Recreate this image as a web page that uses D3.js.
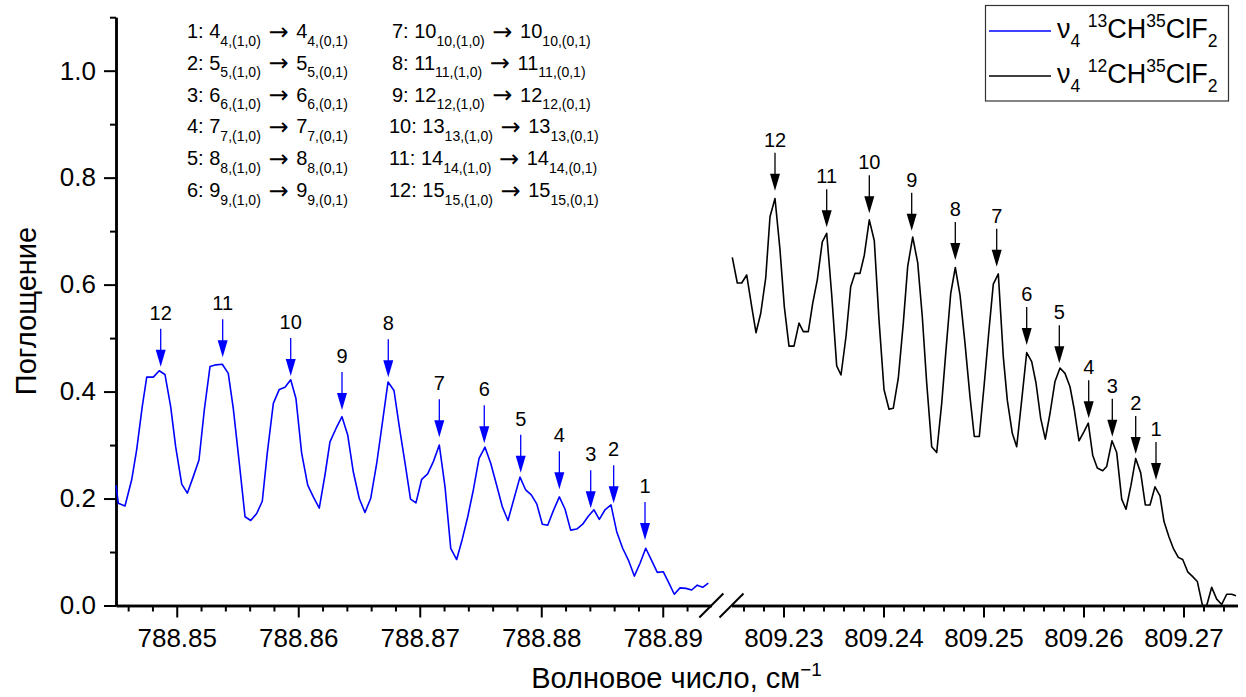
<!DOCTYPE html>
<html><head><meta charset="utf-8">
<script src="https://cdn.jsdelivr.net/npm/d3@7/dist/d3.min.js"></script>
<style>
body{margin:0;background:#fff}
svg{display:block}
text{font-family:"Liberation Sans",Arial,sans-serif;fill:#000}
</style>
</head><body>
<svg id="chart" width="1246" height="697"></svg>
<script>
// ---------- DATA ----------
const blueWavenumber = [
788.84500,788.84519,788.84574,788.84629,788.84670,788.84716,788.84753,788.84807,788.84856,788.84903,
788.84950,788.84991,788.85041,788.85087,788.85136,788.85183,788.85227,788.85274,788.85323,788.85375,
788.85424,788.85465,788.85515,788.85562,788.85609,788.85658,788.85704,788.85745,788.85795,788.85844,
788.85891,788.85938,788.85981,788.86028,788.86078,788.86124,788.86173,788.86220,788.86261,788.86311,
788.86360,788.86407,788.86453,788.86502,788.86549,788.86596,788.86646,788.86692,788.86739,788.86788,
788.86832,788.86879,788.86924,788.86969,788.87016,788.87065,788.87112,788.87161,788.87208,788.87255,
788.87304,788.87350,788.87395,788.87441,788.87488,788.87537,788.87584,788.87633,788.87679,788.87726,
788.87776,788.87825,788.87872,788.87918,788.87963,788.88009,788.88053,788.88099,788.88149,788.88196,
788.88242,788.88292,788.88341,788.88387,788.88434,788.88478,788.88525,788.88574,788.88621,788.88670,
788.88717,788.88766,788.88813,788.88860,788.88909,788.88955,788.89005,788.89051,788.89095,788.89142,
788.89191,788.89238,788.89284,788.89329,788.89375];
const blueAbsorbance = [
0.225,0.191,0.186,0.235,0.291,0.372,0.427,0.427,0.439,0.432,
0.372,0.297,0.227,0.210,0.241,0.272,0.366,0.447,0.450,0.451,
0.434,0.369,0.266,0.166,0.159,0.172,0.195,0.285,0.378,0.404,
0.408,0.422,0.387,0.285,0.225,0.203,0.182,0.244,0.306,0.331,
0.353,0.319,0.250,0.200,0.174,0.200,0.266,0.341,0.418,0.402,
0.334,0.266,0.199,0.192,0.236,0.246,0.269,0.300,0.222,0.107,
0.086,0.124,0.166,0.216,0.275,0.296,0.266,0.225,0.185,0.159,
0.200,0.240,0.216,0.207,0.190,0.152,0.150,0.177,0.203,0.180,
0.141,0.143,0.152,0.167,0.179,0.161,0.179,0.188,0.138,0.107,
0.085,0.055,0.079,0.107,0.084,0.062,0.063,0.042,0.021,0.033,
0.032,0.029,0.038,0.034,0.042];

const blackWavenumber = [
809.22488,809.22538,809.22582,809.22632,809.22682,809.22725,809.22772,809.22822,809.22865,809.22915,
809.22965,809.23008,809.23055,809.23105,809.23155,809.23198,809.23248,809.23292,809.23338,809.23388,
809.23432,809.23482,809.23532,809.23575,809.23625,809.23672,809.23715,809.23765,809.23808,809.23858,
809.23908,809.23955,809.24005,809.24055,809.24098,809.24148,809.24198,809.24242,809.24292,809.24342,
809.24388,809.24432,809.24482,809.24532,809.24582,809.24625,809.24672,809.24718,809.24765,809.24815,
809.24865,809.24908,809.24958,809.25005,809.25052,809.25098,809.25148,809.25198,809.25238,809.25288,
809.25332,809.25382,809.25432,809.25482,809.25525,809.25572,809.25618,809.25665,809.25715,809.25765,
809.25815,809.25865,809.25908,809.25955,809.26005,809.26048,809.26092,809.26138,809.26192,809.26232,
809.26285,809.26332,809.26382,809.26425,809.26475,809.26522,809.26572,809.26618,809.26665,809.26715,
809.26765,809.26805,809.26855,809.26898,809.26948,809.26992,809.27042,809.27092,809.27138,809.27190,
809.27232,809.27282,809.27332,809.27382,809.27432,809.27482,809.27525];
const blackAbsorbance = [
0.651,0.603,0.603,0.618,0.559,0.510,0.546,0.612,0.727,0.761,
0.665,0.559,0.485,0.485,0.528,0.512,0.512,0.565,0.609,0.680,
0.696,0.581,0.448,0.431,0.503,0.596,0.621,0.621,0.655,0.721,
0.682,0.534,0.404,0.367,0.369,0.425,0.528,0.634,0.689,0.641,
0.540,0.416,0.297,0.286,0.378,0.478,0.583,0.632,0.581,0.490,
0.390,0.316,0.316,0.409,0.509,0.601,0.620,0.465,0.384,0.322,
0.297,0.384,0.473,0.456,0.416,0.350,0.311,0.359,0.419,0.444,
0.434,0.409,0.366,0.308,0.325,0.341,0.281,0.257,0.252,0.260,
0.308,0.286,0.199,0.180,0.225,0.275,0.248,0.188,0.188,0.222,
0.205,0.157,0.128,0.107,0.090,0.086,0.063,0.054,0.045,0.000,
0.000,0.034,0.012,0.002,0.021,0.021,0.018];

// arrow marks (label, wavenumber of tip, absorbance of tip)
const blueArrowLabels = ["12","11","10","9","8","7","6","5","4","3","2","1"];
const blueArrowWavenumber = [788.84868,788.85378,788.85938,788.86360,788.86741,788.87161,788.87531,788.87831,788.88149,788.88407,788.88596,788.88854];
const blueArrowAbsorbance = [0.4465,0.4641,0.4291,0.3656,0.4267,0.3145,0.3033,0.2483,0.2173,0.1818,0.1911,0.1225];
const blackArrowLabels = ["12","11","10","9","8","7","6","5","4","3","2","1"];
const blackArrowWavenumber = [809.22915,809.23432,809.23858,809.24282,809.24718,809.25132,809.25432,809.25758,809.26052,809.26288,809.26522,809.26725];
const blackArrowAbsorbance = [0.7756,0.7072,0.7334,0.7008,0.6460,0.6335,0.4871,0.4529,0.3500,0.3156,0.2833,0.2347];

// transitions list
const transitionIds = [1,2,3,4,5,6,7,8,9,10,11,12];
const transitionJ = [4,5,6,7,8,9,10,11,12,13,14,15];

// ticks
const xTicksLeft = [788.85,788.86,788.87,788.88,788.89];
const xMinorLeft = [788.846,788.848,788.852,788.854,788.856,788.858,788.862,788.864,788.866,788.868,788.872,788.874,788.876,788.878,788.882,788.884,788.886,788.888,788.892];
const xTicksRight = [809.23,809.24,809.25,809.26,809.27];
const xMinorRight = [809.226,809.228,809.232,809.234,809.236,809.238,809.242,809.244,809.246,809.248,809.252,809.254,809.256,809.258,809.262,809.264,809.266,809.268,809.272,809.274];
const yTicks = [0,0.2,0.4,0.6,0.8,1.0];
const yMinor = [0.1,0.3,0.5,0.7,0.9,1.1];

const seriesNames = ["13","12"];
const yTitle = "Поглощение";
const xTitle = "Волновое число, см";

// ---------- DRAW ----------
const svg = d3.select("#chart");
const xLeft = d3.scaleLinear().domain([788.845, 788.894]).range([116, 711.35]);
const xRight = d3.scaleLinear().domain([809.2248, 809.2754]).range([731.5, 1237.5]);
const y = d3.scaleLinear().domain([0, 1.1]).range([605.5, 17.2]);

function styleAxis(g, fs) {
  g.select(".domain").attr("stroke", "#000").attr("stroke-width", 2.5);
  g.selectAll(".tick line").attr("stroke", "#000").attr("stroke-width", 2);
  g.selectAll(".tick text").attr("font-size", fs).attr("font-family", '"Liberation Sans",Arial,sans-serif').attr("fill", "#000");
}

// x axes
[[xLeft, xTicksLeft, xMinorLeft], [xRight, xTicksRight, xMinorRight]].forEach(([sc, maj, mn]) => {
  const gm = svg.append("g").attr("transform", "translate(0,605.5)")
    .call(d3.axisBottom(sc).tickValues(mn).tickSize(6).tickSizeOuter(0).tickFormat(""));
  styleAxis(gm, 26);
  const g = svg.append("g").attr("transform", "translate(0,605.5)")
    .call(d3.axisBottom(sc).tickValues(maj).tickSize(12).tickSizeOuter(0).tickPadding(11).tickFormat(d3.format(".2f")));
  styleAxis(g, 26);
});

// y axis
const gyMinor = svg.append("g").attr("transform", "translate(116,0)")
  .call(d3.axisLeft(y).tickValues(yMinor).tickSize(6).tickSizeOuter(0).tickFormat(""));
styleAxis(gyMinor, 26);
const gy = svg.append("g").attr("transform", "translate(116,0)")
  .call(d3.axisLeft(y).tickValues(yTicks).tickSize(12).tickSizeOuter(0).tickPadding(8).tickFormat(d3.format(".1f")));
styleAxis(gy, 26);

// break marks
[xLeft.range()[1], xRight.range()[0]].forEach(cx => {
  svg.append("line").attr("x1", cx - 12).attr("y1", 617.5).attr("x2", cx + 12).attr("y2", 593.5)
    .attr("stroke", "#000").attr("stroke-width", 2);
});

// curves
const blueData = blueWavenumber.map((w, i) => [w, blueAbsorbance[i]]);
const blackData = blackWavenumber.map((w, i) => [w, blackAbsorbance[i]]);
svg.append("path").datum(blueData)
  .attr("d", d3.line().x(d => xLeft(d[0])).y(d => y(d[1])))
  .attr("fill", "none").attr("stroke", "#0000ff").attr("stroke-width", 1.6).attr("stroke-linejoin", "round");
svg.append("path").datum(blackData)
  .attr("d", d3.line().x(d => xRight(d[0])).y(d => y(d[1])))
  .attr("fill", "none").attr("stroke", "#000").attr("stroke-width", 1.6).attr("stroke-linejoin", "round");

// arrows
function drawArrows(labels, wn, ab, sc, color, labelOffset) {
  labels.forEach((lab, i) => {
    const x = sc(wn[i]), t = y(ab[i]);
    svg.append("line").attr("x1", x).attr("x2", x).attr("y1", t - 38).attr("y2", t - 15)
      .attr("stroke", color).attr("stroke-width", 1.3);
    svg.append("path").attr("d", `M${x - 5},${t - 17}L${x + 5},${t - 17}L${x},${t}Z`).attr("fill", color);
    svg.append("text").attr("x", x).attr("y", t - labelOffset).attr("text-anchor", "middle")
      .attr("font-size", 20).text(lab);
  });
}
drawArrows(blueArrowLabels, blueArrowWavenumber, blueArrowAbsorbance, xLeft, "#0000ff", 47);
drawArrows(blackArrowLabels, blackArrowWavenumber, blackArrowAbsorbance, xRight, "#000", 44);

// rich text helper: parts = [text, kind] with kind in {undefined, "sub", "sup", "arrow"}
function rich(x, yy, parts, base, anchor, subScale, subShift) {
  const ss = subScale || 0.65, sh = subShift || 0.33;
  const t = svg.append("text").attr("x", x).attr("y", yy).attr("font-size", base)
    .attr("text-anchor", anchor || "start");
  let cur = 0;
  parts.forEach(([s, kind]) => {
    let shift = 0, fs = base;
    if (kind === "sub") { shift = base * sh; fs = base * ss; }
    else if (kind === "sup") { shift = -base * 0.42; fs = base * ss; }
    else if (kind === "arrow") { shift = base * 0.08; fs = base * 1.2; }
    const ts = t.append("tspan").attr("dy", shift - cur).attr("font-size", fs).text(s);
    if (kind === "arrow") ts.attr("font-family", '"DejaVu Sans",sans-serif');
    cur = shift;
  });
  return t;
}

// transition list
transitionIds.forEach((id, i) => {
  const J = transitionJ[i];
  const col = i < 6 ? 0 : 1;
  const row = i % 6;
  const x = col === 0 ? 187 : (id >= 10 ? 389 : 392);
  rich(x, 38 + row * 31.8,
    [[`${id}: ${J}`], [`${J},(1,0)`, "sub"], ["\u00a0\u2192\u00a0", "arrow"], [`${J}`], [`${J},(0,1)`, "sub"]],
    20, "start", 0.7, 0.38);
});

// legend
svg.append("rect").attr("x", 985.5).attr("y", 5.5).attr("width", 243).attr("height", 95.5)
  .attr("fill", "#fff").attr("stroke", "#333").attr("stroke-width", 1.2);
[["#0000ff", seriesNames[0], 38], ["#000", seriesNames[1], 83]].forEach(([c, iso, by]) => {
  svg.append("line").attr("x1", 989).attr("x2", 1051).attr("y1", by - 7).attr("y2", by - 7)
    .attr("stroke", c).attr("stroke-width", 1.6);
  rich(1057, by, [["\u03bd"], ["4", "sub"], ["\u00a0"], [iso, "sup"], ["CH"], ["35", "sup"], ["ClF"], ["2", "sub"]], 27);
});

// axis titles
rich(676.5, 688, [[xTitle], ["\u22121", "sup"]], 29, "middle");
svg.append("text").attr("transform", "translate(36,311) rotate(-90)").attr("text-anchor", "middle")
  .attr("font-size", 29).text(yTitle);
</script>
</body></html>
